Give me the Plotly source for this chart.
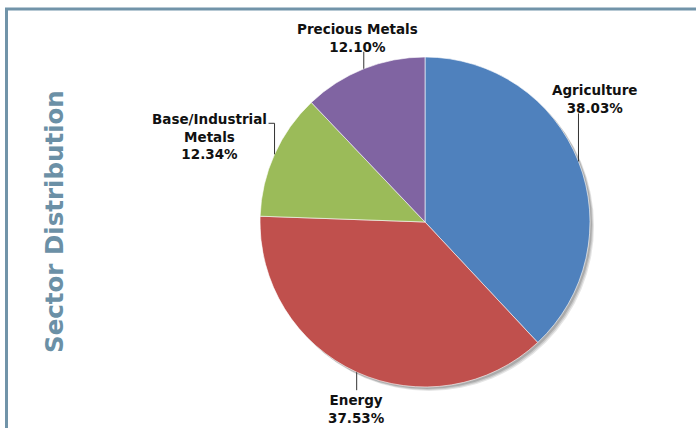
import math
import plotly.graph_objects as go

# ---- data ----
sectors = ["Agriculture", "Energy", "Base/Industrial Metals", "Precious Metals"]
label_text = ["Agriculture", "Energy", "Base/Industrial<br>Metals", "Precious Metals"]
weights = [38.03, 37.53, 12.34, 12.10]
colors = ["#4f81bd", "#c0504d", "#9bbb59", "#8064a2"]

W, H = 696, 428
CX, CY, R = 425, 222, 165  # pie centre / radius in pixels


def px(x):
    return x / W


def py(y):
    return 1 - y / H


fig = go.Figure()

# soft shadow behind the pie
for off, op in [(4, 0.10), (3, 0.12), (2, 0.15)]:
    fig.add_trace(go.Pie(
        values=[1], labels=["shadow"], sort=False, textinfo="none", hoverinfo="skip",
        marker=dict(colors=[f"rgba(0,0,0,{op})"], line=dict(width=0)),
        domain=dict(x=[px(CX - R + off), px(CX + R + off)],
                    y=[py(CY + R + off), py(CY - R + off)]),
        showlegend=False,
    ))

fig.add_trace(go.Pie(
    labels=sectors, values=weights, sort=False, direction="clockwise", rotation=0,
    textinfo="none", hoverinfo="label+percent",
    marker=dict(colors=colors, line=dict(color="rgba(255,255,255,0.6)", width=1)),
    domain=dict(x=[px(CX - R), px(CX + R)], y=[py(CY + R), py(CY - R)]),
    showlegend=False,
))

# label layout styles: leader length (negative=up), elbow dx, anchors, text offsets
styles = [
    dict(len=-48, elbow=0, xanchor="center", yanchor="bottom", tdx=17, tdy=5),
    dict(len=18, elbow=0, xanchor="center", yanchor="top", tdx=0, tdy=0),
    dict(len=-31, elbow=-6, xanchor="right", yanchor="top", tdx=0, tdy=-14),
    dict(len=-17, elbow=0, xanchor="center", yanchor="bottom", tdx=-6, tdy=5),
]

total = sum(weights)
cum = 0.0
shapes = []
annotations = []
font = dict(family="DejaVu Sans", size=13.5, color="#111111")
for name, txt, v, st in zip(sectors, label_text, weights, styles):
    mid = (cum + v / 2) / total * 2 * math.pi
    cum += v
    ex = CX + R * math.sin(mid)
    ey = CY - R * math.cos(mid)
    y2 = ey + st["len"]
    shapes.append(dict(type="line", xref="paper", yref="paper",
                       x0=px(ex), y0=py(ey), x1=px(ex), y1=py(y2),
                       line=dict(color="#333333", width=1)))
    tx = ex + st["tdx"]
    if st["elbow"]:
        shapes.append(dict(type="line", xref="paper", yref="paper",
                           x0=px(ex), y0=py(y2), x1=px(ex + st["elbow"]), y1=py(y2),
                           line=dict(color="#333333", width=1)))
        tx = ex + st["elbow"]
    ty = y2 + st["tdy"]
    annotations.append(dict(
        x=px(tx), y=py(ty), xref="paper", yref="paper",
        text=f"<b>{txt}<br>{v:.2f}%</b>", showarrow=False, align="center",
        xanchor=st["xanchor"], yanchor=st["yanchor"], font=font,
    ))

# frame lines
shapes.append(dict(type="line", xref="paper", yref="paper", x0=px(5), y0=py(9), x1=1, y1=py(9),
                   line=dict(color="#7194a9", width=3)))
shapes.append(dict(type="line", xref="paper", yref="paper", x0=px(6.5), y0=py(8), x1=px(6.5), y1=0,
                   line=dict(color="#7194a9", width=3)))

annotations.append(dict(
    x=px(54), y=py(222), xref="paper", yref="paper", text="<b>Sector Distribution</b>",
    showarrow=False, textangle=-90, xanchor="center", yanchor="middle",
    font=dict(family="DejaVu Sans", size=24.5, color="#6b90a6"),
))

fig.update_layout(
    width=W, height=H, margin=dict(l=0, r=0, t=0, b=0),
    paper_bgcolor="white", plot_bgcolor="white",
    shapes=shapes, annotations=annotations,
)

fig.write_html("out.html", config={"displayModeBar": False},
               post_script="document.body.style.margin='0';document.body.style.overflow='hidden';")
